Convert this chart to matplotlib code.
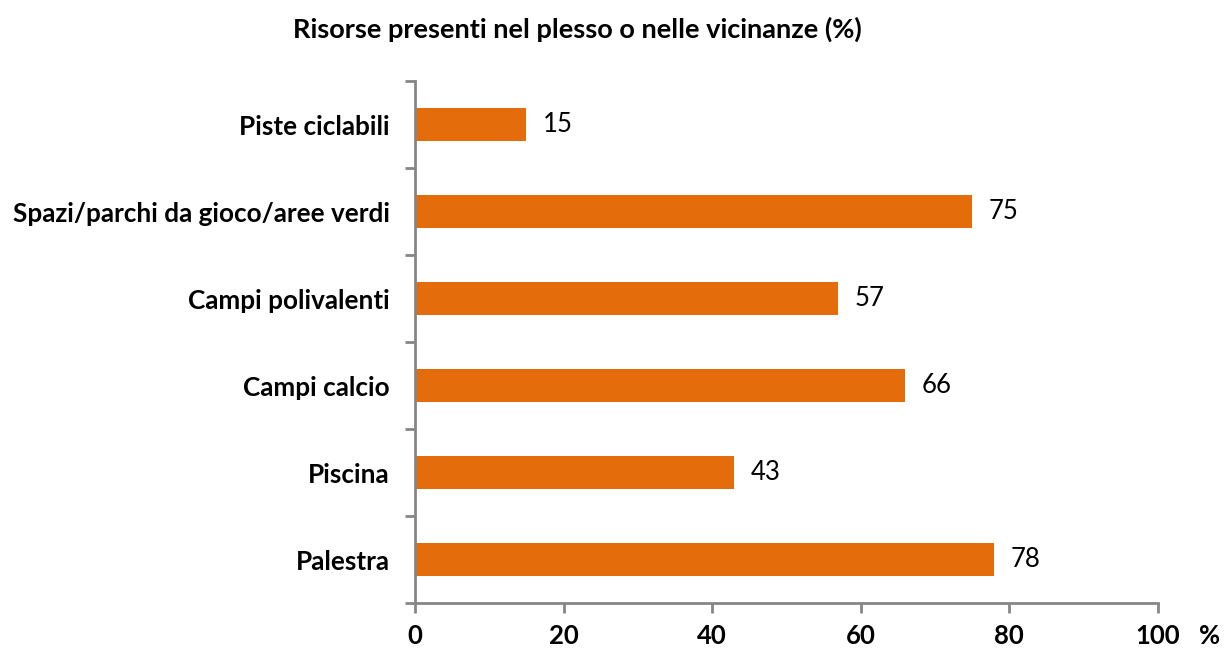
import matplotlib
matplotlib.use("Agg")
import matplotlib.pyplot as plt

categories = ["Palestra", "Piscina", "Campi calcio", "Campi polivalenti",
              "Spazi/parchi da gioco/aree verdi", "Piste ciclabili"]
values = [78, 43, 66, 57, 75, 15]
xticks = [0, 20, 40, 60, 80, 100]
title = "Risorse presenti nel plesso o nelle vicinanze (%)"

plt.rcParams['font.family'] = ['Lato', 'DejaVu Sans']
fig = plt.figure(figsize=(12.24, 6.48), dpi=100)
ax = fig.add_axes([0.339, 0.0694, 0.607, 0.8056])

grey = "#868686"
ypos = list(range(len(categories)))
ax.barh(ypos, values, height=0.39, color="#E46C0A")
for y, v in zip(ypos, values):
    ax.text(v + 2.2, y, str(v), va="center", ha="left", fontsize=18.5, color="black")

ax.set_xlim(0, 100)
ax.set_ylim(-0.5, len(categories) - 0.5)
ax.set_xticks(xticks)
ax.set_xticklabels([str(t) for t in xticks], fontsize=18.5, fontweight="bold")
ax.set_yticks(ypos)
ax.set_yticklabels(categories, fontsize=18.8, fontweight="bold")
ax.tick_params(axis="y", length=0, pad=18)
ax.set_yticks([i - 0.5 for i in range(len(categories) + 1)], minor=True)
ax.tick_params(axis="y", which="minor", length=7, width=2, color=grey, direction="out")
ax.tick_params(axis="x", length=7, width=2, color=grey, direction="out", pad=8)

for s in ["top", "right"]:
    ax.spines[s].set_visible(False)
for s in ["left", "bottom"]:
    ax.spines[s].set_color(grey)
    ax.spines[s].set_linewidth(2)

fig.text(0.4716, 0.954, title, ha="center", va="center", fontsize=19.5, fontweight="bold")
ax.text(1.07, -0.063, "%", transform=ax.transAxes, ha="center", va="center",
        fontsize=18.5, fontweight="bold")

fig.savefig("out.png", dpi=100)
